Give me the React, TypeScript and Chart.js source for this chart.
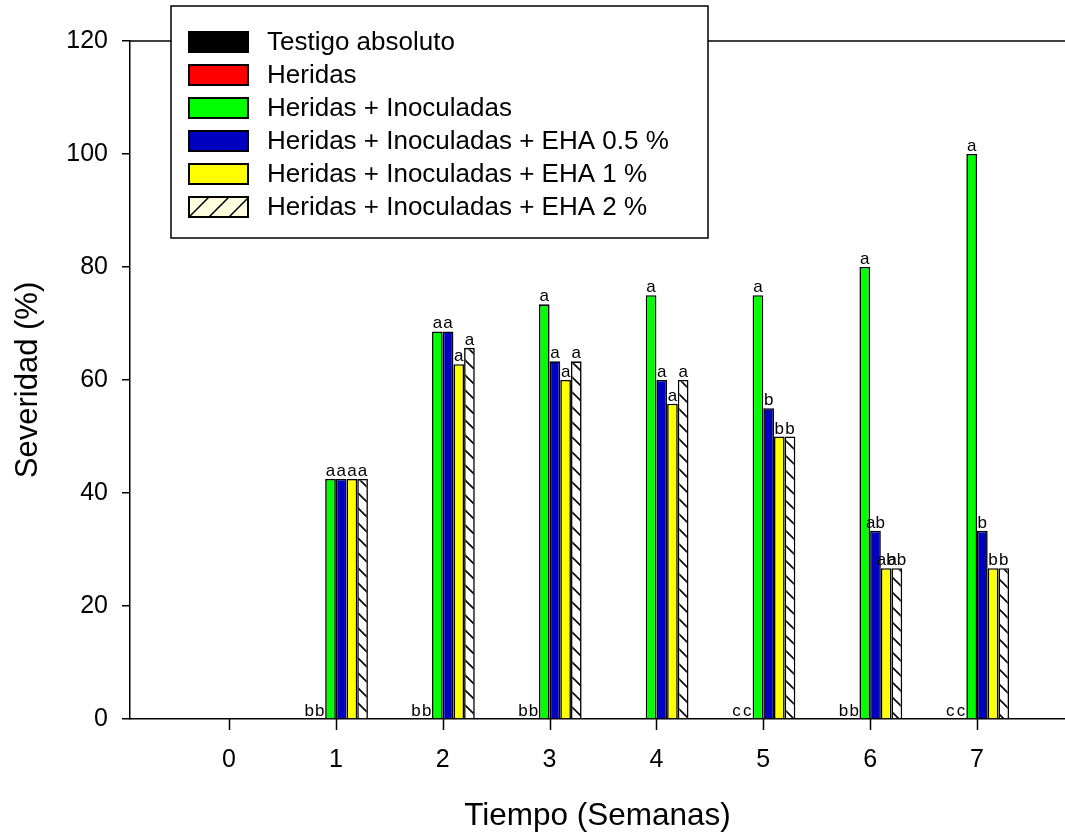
import React, { useEffect, useRef } from "react";
import { Chart, registerables } from "chart.js";

Chart.register(...registerables);

const weeks = [0, 1, 2, 3, 4, 5, 6, 7];
const weekLabels = ["0", "1", "2", "3", "4", "5", "6", "7"];
const yTicks = [0, 20, 40, 60, 80, 100, 120];

const seriesNames = [
  "Testigo absoluto",
  "Heridas",
  "Heridas + Inoculadas",
  "Heridas + Inoculadas + EHA 0.5 %",
  "Heridas + Inoculadas + EHA 1 %",
  "Heridas + Inoculadas + EHA 2 %",
];

const testigo = [0, 0, 0, 0, 0, 0, 0, 0];
const heridas = [0, 0, 0, 0, 0, 0, 0, 0];
const inoculadas = [0, 42.5, 68.6, 73.4, 75, 75, 80, 100];
const eha05 = [0, 42.5, 68.6, 63.3, 60, 55, 33.3, 33.3];
const eha1 = [0, 42.5, 62.8, 60, 55.8, 50, 26.7, 26.7];
const eha2 = [0, 42.5, 65.7, 63.3, 60, 50, 26.7, 26.7];

const lettersTestigo = ["", "b", "b", "b", "", "c", "b", "c"];
const lettersHeridas = ["", "b", "b", "b", "", "c", "b", "c"];
const lettersInoculadas = ["", "a", "a", "a", "a", "a", "a", "a"];
const lettersEha05 = ["", "a", "a", "a", "a", "b", "ab", "b"];
const lettersEha1 = ["", "a", "a", "a", "a", "b", "ab", "b"];
const lettersEha2 = ["", "a", "a", "a", "a", "b", "ab", "b"];

const FONT = "'Liberation Sans', Arial, Helvetica, sans-serif";

function makeHatch(): CanvasPattern | string {
  const size = 15;
  const c = document.createElement("canvas");
  c.width = size;
  c.height = size;
  const g = c.getContext("2d");
  if (!g) return "#ffffff";
  g.fillStyle = "#ffffff";
  g.fillRect(0, 0, size, size);
  g.strokeStyle = "#000000";
  g.lineWidth = 1.6;
  for (const k of [-1, 0, 1]) {
    g.beginPath();
    g.moveTo(k * size - 1, -1);
    g.lineTo(k * size + size + 1, size + 1);
    g.stroke();
  }
  const p = g.createPattern(c, "repeat");
  return p || "#ffffff";
}

export default function App() {
  const ref = useRef<HTMLCanvasElement | null>(null);

  useEffect(() => {
    document.body.style.margin = "0";
    const canvas = ref.current;
    if (!canvas) return;
    const hatch = makeHatch();

    const values = [testigo, heridas, inoculadas, eha05, eha1, eha2];
    const letters = [lettersTestigo, lettersHeridas, lettersInoculadas, lettersEha05, lettersEha1, lettersEha2];
    const fills: any[] = ["#000000", "#ff0000", "#00ff00", "#0000c0", "#ffff00", hatch];

    const lettersPlugin = {
      id: "letters",
      afterDatasetsDraw(chart: any) {
        const ctx = chart.ctx;
        ctx.save();
        ctx.font = `17px ${FONT}`;
        ctx.fillStyle = "#000";
        ctx.textAlign = "center";
        ctx.textBaseline = "alphabetic";
        chart.data.datasets.forEach((_ds: any, di: number) => {
          const meta = chart.getDatasetMeta(di);
          meta.data.forEach((el: any, i: number) => {
            const t = letters[di][i];
            if (!t) return;
            const yTop = Math.min(el.y, el.base);
            ctx.fillText(t, el.x, yTop - 3);
          });
        });
        ctx.restore();
      },
    };

    const framePlugin = {
      id: "frameLegend",
      afterDraw(chart: any) {
        const ctx = chart.ctx;
        const { left, right, top, bottom } = chart.chartArea;
        const xs = chart.scales.x;
        ctx.save();
        ctx.strokeStyle = "#000";
        ctx.lineWidth = 1.5;
        ctx.beginPath();
        ctx.moveTo(left, top);
        ctx.lineTo(right, top);
        ctx.stroke();

        // x tick marks at each week
        ctx.beginPath();
        weeks.forEach((w) => {
          const px = Math.round(xs.getPixelForValue(w)) + 0.5;
          ctx.moveTo(px, bottom);
          ctx.lineTo(px, bottom + 11);
        });
        ctx.stroke();

        // legend box
        const bx = 171, by = 6, bw = 537, bh = 232;
        ctx.fillStyle = "#fff";
        ctx.fillRect(bx, by, bw, bh);
        ctx.lineWidth = 1.5;
        ctx.strokeRect(bx, by, bw, bh);

        const sx = 189, sw = 59, sh = 20;
        const row0 = 42, rowStep = 33;
        const legendFills = ["#000000", "#ff0000", "#00ff00", "#0000c0", "#ffff00", "#ffffe0"];
        ctx.font = `26px ${FONT}`;
        ctx.textBaseline = "middle";
        ctx.textAlign = "left";
        seriesNames.forEach((name, i) => {
          const cy = row0 + i * rowStep;
          const sy = cy - sh / 2;
          ctx.fillStyle = legendFills[i];
          ctx.fillRect(sx, sy, sw, sh);
          if (i === 5) {
            ctx.save();
            ctx.beginPath();
            ctx.rect(sx, sy, sw, sh);
            ctx.clip();
            ctx.strokeStyle = "#000";
            ctx.lineWidth = 1.5;
            for (let x = sx - 20; x < sx + sw + 20; x += 20) {
              ctx.beginPath();
              ctx.moveTo(x, sy + sh);
              ctx.lineTo(x + sh, sy);
              ctx.stroke();
            }
            ctx.restore();
          }
          ctx.strokeStyle = "#000";
          ctx.lineWidth = 2;
          ctx.strokeRect(sx, sy, sw, sh);
          ctx.fillStyle = "#000";
          ctx.fillText(name, 267, cy + 1);
        });
        ctx.restore();
      },
    };

    const chart = new Chart(canvas, {
      type: "bar",
      data: {
        datasets: values.map((vals, di) => ({
          label: seriesNames[di],
          data: weeks.map((w, i) => ({ x: w, y: vals[i] })),
          backgroundColor: fills[di],
          borderColor: "#000000",
          borderWidth: 1.6,
          borderSkipped: "start",
          categoryPercentage: 0.6,
          barPercentage: 1.0,
        })),
      },
      options: {
        animation: false,
        responsive: false,
        maintainAspectRatio: false,
        layout: { padding: { top: 41, left: 0, right: 0, bottom: 0 } },
        plugins: {
          legend: { display: false },
          tooltip: { enabled: false },
          title: { display: false },
        },
        scales: {
          x: {
            type: "linear",
            min: -0.9265,
            max: 7.8235,
            offset: false,
            afterFit(scale: any) {
              scale.height = 117;
            },
            afterBuildTicks(scale: any) {
              scale.ticks = weeks.map((v) => ({ value: v }));
            },
            ticks: {
              autoSkip: false,
              maxRotation: 0,
              padding: 16,
              color: "#000",
              font: { family: FONT, size: 25 },
              callback: (v: any) => {
                const idx = weeks.indexOf(Number(v));
                return idx >= 0 ? weekLabels[idx] : "";
              },
            },
            grid: {
              offset: false,
              drawOnChartArea: false,
              drawTicks: true,
              tickLength: 10,
              color: "rgba(0,0,0,0)",
              lineWidth: 1.5,
            },
            border: { display: true, color: "#000", width: 1.5 },
            title: {
              display: true,
              text: "Tiempo (Semanas)",
              color: "#000",
              font: { family: FONT, size: 31.5 },
              padding: { top: 0, bottom: 1 },
            },
          },
          y: {
            min: 0,
            max: 120,
            afterFit(scale: any) {
              scale.width = 130;
            },
            afterBuildTicks(scale: any) {
              scale.ticks = yTicks.map((v) => ({ value: v }));
            },
            ticks: {
              padding: 14,
              color: "#000",
              font: { family: FONT, size: 25 },
            },
            grid: {
              drawOnChartArea: false,
              drawTicks: true,
              tickLength: 8,
              color: "#000",
              lineWidth: 1.5,
            },
            border: { display: true, color: "#000", width: 1.5 },
            title: {
              display: true,
              text: "Severidad (%)",
              color: "#000",
              font: { family: FONT, size: 31 },
              padding: { top: 10, bottom: 0 },
            },
          },
        },
      },
      plugins: [lettersPlugin, framePlugin],
    } as any);

    return () => chart.destroy();
  }, []);

  return (
    <div style={{ width: 1065, height: 836 }}>
      <canvas ref={ref} width={1065} height={836} />
    </div>
  );
}
